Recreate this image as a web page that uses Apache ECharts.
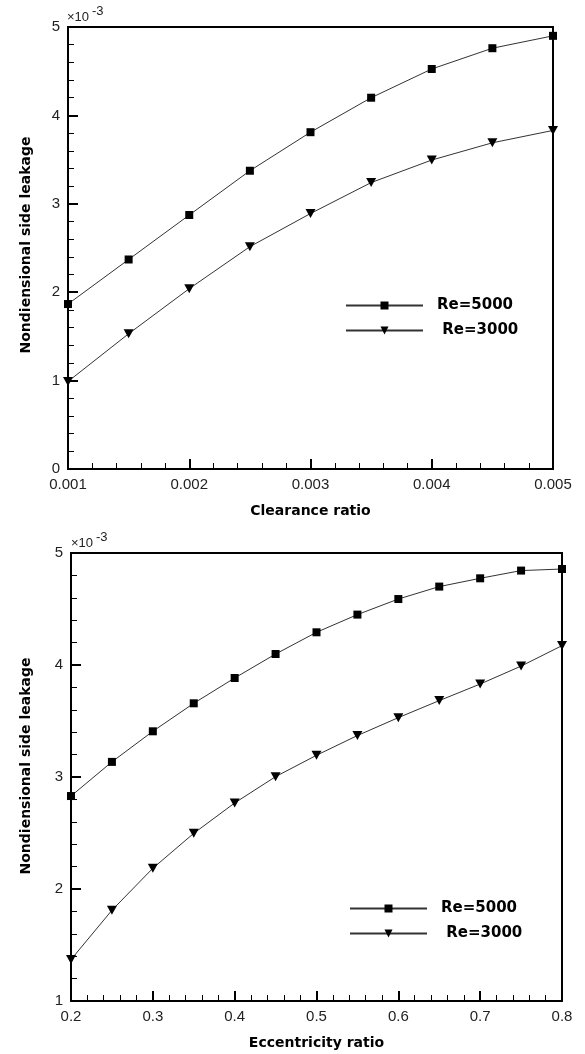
<!DOCTYPE html>
<html>
<head>
<meta charset="utf-8">
<title>side leakage</title>
<script src="https://cdn.jsdelivr.net/npm/echarts@6/dist/echarts.min.js"></script>
<style>
html,body{margin:0;padding:0;background:#fff;}
#main{width:585px;height:1054px;}
</style>
</head>
<body>
<div id="main"></div>
<script>
// top plot: clearance ratio
var clearance = [0.001, 0.0015, 0.002, 0.0025, 0.003, 0.0035, 0.004, 0.0045, 0.005];
var clrRe5000 = [1.866, 2.37, 2.873, 3.374, 3.81, 4.20, 4.525, 4.76, 4.90];
var clrRe3000 = [0.99, 1.53, 2.04, 2.515, 2.89, 3.24, 3.495, 3.69, 3.83];
// bottom plot: eccentricity ratio
var eccentricity = [0.2, 0.25, 0.3, 0.35, 0.4, 0.45, 0.5, 0.55, 0.6, 0.65, 0.7, 0.75, 0.8];
var eccRe5000 = [2.83, 3.135, 3.408, 3.658, 3.884, 4.098, 4.292, 4.45, 4.589, 4.70, 4.774, 4.843, 4.857];
var eccRe3000 = [1.37, 1.81, 2.185, 2.497, 2.768, 3.003, 3.194, 3.37, 3.53, 3.682, 3.83, 3.99, 4.173];
var seriesNames = ['Re=5000', 'Re=3000'];

var labelFont = '"Liberation Sans", Arial, sans-serif';
var boldFont = '"DejaVu Sans", sans-serif';
var triangleDown = 'path://M0,0L10,0L5,9Z';

function pairs(xs, ys) {
    return xs.map(function (x, i) { return [x, ys[i]]; });
}

function lineSeries(name, xs, ys, idx) {
    var square = name === 'Re=5000';
    return {
        name: name,
        type: 'line',
        xAxisIndex: idx,
        yAxisIndex: idx,
        data: pairs(xs, ys),
        symbol: square ? 'rect' : triangleDown,
        symbolSize: square ? 8 : [10, 9],
        showAllSymbol: true,
        lineStyle: { color: '#333', width: 1 },
        itemStyle: { color: '#000' },
        emphasis: { disabled: true },
        z: 3
    };
}

function xAxisOf(idx, name, min, max, step, digits) {
    return {
        type: 'value', gridIndex: idx, min: min, max: max, interval: step,
        name: name, nameLocation: 'middle', nameGap: 35,
        nameTextStyle: { fontFamily: boldFont, fontWeight: 'bold', fontSize: 14, color: '#000' },
        axisLine: { lineStyle: { color: '#000', width: 2 } },
        axisTick: { inside: true, length: 10, lineStyle: { color: '#000', width: 2 } },
        minorTick: { show: true, splitNumber: 5, length: 6, lineStyle: { color: '#000', width: 1 } },
        splitLine: { show: false },
        axisLabel: {
            margin: 8, fontFamily: labelFont, fontSize: 15, color: '#222',
            formatter: function (v) { return v.toFixed(digits); }
        }
    };
}

function yAxisOf(idx, min, max, gap, shift) {
    return {
        type: 'value', gridIndex: idx, min: min, max: max, interval: 1,
        name: 'Nondiensional side leakage', nameLocation: 'middle', nameGap: gap, nameRotate: 90,
        nameTextStyle: {
            fontFamily: boldFont, fontWeight: 'bold', fontSize: 14, color: '#000',
            padding: [0, 0, 0, shift]
        },
        axisLine: { lineStyle: { color: '#000', width: 2 } },
        axisTick: { inside: true, length: 10, lineStyle: { color: '#000', width: 2 } },
        minorTick: { show: true, splitNumber: 5, length: 6, lineStyle: { color: '#000', width: 1 } },
        splitLine: { show: false },
        axisLabel: { margin: 8, fontFamily: labelFont, fontSize: 15, color: '#222' }
    };
}

function legendOf(left, top) {
    return {
        orient: 'vertical', left: left, top: top, padding: 0,
        itemWidth: 77, itemHeight: 10, itemGap: 10,
        data: seriesNames,
        selectedMode: false,
        formatter: function (n) { return n === 'Re=3000' ? ' ' + n : n; },
        textStyle: { fontFamily: boldFont, fontWeight: 'bold', fontSize: 15, color: '#000', padding: [0, 0, 0, 9] }
    };
}

// x10^-3 marks above each y axis
function expTitles(left, top) {
    var st = { fontFamily: labelFont, fontSize: 13, fontWeight: 'normal', color: '#222' };
    return [
        { text: '\u00d710', left: left, top: top + 6, padding: 0, textStyle: st },
        { text: '-3', left: left + 25, top: top, padding: 0, textStyle: st }
    ];
}

var myChart = echarts.init(document.getElementById('main'));
var option = {
    backgroundColor: '#fff',
    animation: false,
    title: expTitles(67, 4.5).concat(expTitles(71, 531)),
    legend: [legendOf(345, 298), legendOf(349, 901)],
    grid: [
        { left: 68, top: 27, width: 485, height: 442, show: true, borderColor: '#000', borderWidth: 2 },
        { left: 71, top: 553, width: 491, height: 448, show: true, borderColor: '#000', borderWidth: 2 }
    ],
    xAxis: [
        xAxisOf(0, 'Clearance ratio', 0.001, 0.005, 0.001, 3),
        xAxisOf(1, 'Eccentricity ratio', 0.2, 0.8, 0.1, 1)
    ],
    yAxis: [yAxisOf(0, 0, 5, 35, 6), yAxisOf(1, 1, 5, 38, 22)],
    series: [
        lineSeries(seriesNames[0], clearance, clrRe5000, 0),
        lineSeries(seriesNames[1], clearance, clrRe3000, 0),
        lineSeries(seriesNames[0], eccentricity, eccRe5000, 1),
        lineSeries(seriesNames[1], eccentricity, eccRe3000, 1)
    ]
};
myChart.setOption(option);
</script>
</body>
</html>
